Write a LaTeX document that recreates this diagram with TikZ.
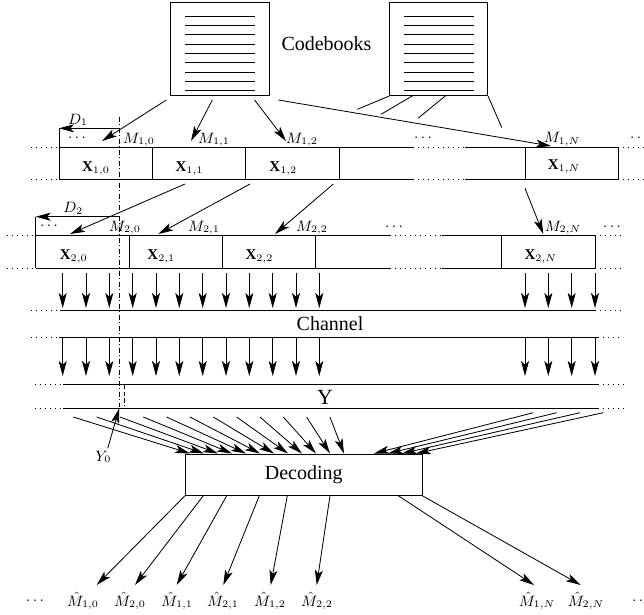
\documentclass[tikz,border=0pt]{standalone}
\usepackage{fontspec}
\setmainfont{Liberation Serif}
\usetikzlibrary{arrows.meta}
\begin{document}
\begin{tikzpicture}[x=0.6pt,y=-0.6pt, line width=0.5pt,
  arr/.style={-{Stealth[length=9pt,width=4.8pt,inset=2.2pt]}},
  dotln/.style={dash pattern=on 0.6pt off 2.4pt},
  dashdot/.style={dash pattern=on 3pt off 1.5pt on 0.6pt off 1.5pt, line width=0.4pt},
  lbl/.style={font=\small, inner sep=0pt},
  txt/.style={font=\fontsize{12}{14}\selectfont, inner sep=0pt},
  book/.style={draw, minimum width=58.9pt, minimum height=55.8pt, inner sep=0pt}]
\useasboundingbox (0,0) rectangle (644,614);

% ---------- codebooks
\node[book] (cb1) at (219.9,49.2) {};
\node[book] (cb2) at (438.6,49.2) {};
\foreach \y in {16.0,25.3,34.7,44.0,53.3,62.7,72.0,81.3,90.7}{
  \draw (185,\y) -- (255,\y);
  \draw (404,\y) -- (474,\y);
}
\node[txt] (cbt) at (326.5,43.3) {Codebooks};

% arrows from codebook 1
\coordinate (s1) at (166.3,100); \coordinate (t1) at (102,141);
\coordinate (s2) at (212.3,100); \coordinate (t2) at (191,141);
\coordinate (s3) at (254.6,100); \coordinate (t3) at (286,141);
\coordinate (s4) at (278.4,100); \coordinate (t4) at (551,146);
\draw[arr] (s1) -- (t1);
\draw[arr] (s2) -- (t2);
\draw[arr] (s3) -- (t3);
\draw[arr] (s4) -- (t4);
% stubs from codebook 2
\coordinate (u1) at (357.3,109.3);
\coordinate (c2a) at (412.7,95.7); \coordinate (u2) at (381,114.3);
\coordinate (c2b) at (445.6,95.7); \coordinate (u3) at (418,118.3);
\coordinate (u4) at (501.8,127.7);
\draw (cb2.south west) -- (u1);
\draw (c2a) -- (u2);
\draw (c2b) -- (u3);
\draw (cb2.south east) -- (u4);

% ---------- row 1
\foreach \y in {147,179}{
  \draw[dotln] (31,\y) -- (59,\y);
  \draw (59,\y) -- (413,\y);
  \draw[dotln] (413,\y) -- (465,\y);
  \draw (465,\y) -- (618.3,\y);
  \draw[dotln] (618.3,\y) -- (644,\y);
}
\draw (59,128.3) -- (59,179);
\foreach \x in {152.3,245.7,339,525,618.3}{ \draw (\x,147) -- (\x,179); }
\coordinate (d1a) at (119.3,128.3); \coordinate (d1b) at (59,128.3);
\draw[arr] (d1a) -- (d1b);
\node[lbl] (D1) at (78,120) {$D_1$};
\node[lbl] (e11) at (77,138) {$\cdots$};
\node[lbl] (e12) at (423,138) {$\cdots$};
\node[lbl] (e13) at (639,138) {$\cdots$};
\node[lbl] (m10) at (139,140) {$M_{1,0}$};
\node[lbl] (m11) at (214,140) {$M_{1,1}$};
\node[lbl] (m12) at (302,140) {$M_{1,2}$};
\node[lbl] (m1N) at (562,139.3) {$M_{1,N}$};
\node[lbl] (x10) at (96,168.3) {$\mathbf{X}_{1,0}$};
\node[lbl] (x11) at (189.5,168.3) {$\mathbf{X}_{1,1}$};
\node[lbl] (x12) at (283.3,168.3) {$\mathbf{X}_{1,2}$};
\node[lbl] (x1N) at (564,166.7) {$\mathbf{X}_{1,N}$};

% row1 -> row2 arrows
\coordinate (p1) at (185,184); \coordinate (q1) at (70,234);
\coordinate (p2) at (250,184); \coordinate (q2) at (158.3,234);
\coordinate (p3) at (333.3,184); \coordinate (q3) at (275,234);
\coordinate (p4) at (525,188.3); \coordinate (q4) at (543.3,234);
\draw[arr] (p1) -- (q1);
\draw[arr] (p2) -- (q2);
\draw[arr] (p3) -- (q3);
\draw[arr] (p4) -- (q4);

% ---------- row 2
\foreach \y in {235,268.3}{
  \draw[dotln] (6.7,\y) -- (35.7,\y);
  \draw (35.7,\y) -- (390,\y);
  \draw[dotln] (390,\y) -- (442,\y);
  \draw (442,\y) -- (595,\y);
  \draw[dotln] (595,\y) -- (622,\y);
}
\draw (35.7,216.7) -- (35.7,268.3);
\foreach \x in {129,222.3,315.7,501.7,595}{ \draw (\x,235) -- (\x,268.3); }
\coordinate (d2a) at (119.3,216.7); \coordinate (d2b) at (35.7,216.7);
\draw[arr] (d2a) -- (d2b);
\node[lbl] (D2) at (73.3,208.3) {$D_2$};
\node[lbl] (e21) at (49,226) {$\cdots$};
\node[lbl] (e22) at (394,226.7) {$\cdots$};
\node[lbl] (e23) at (612,226.7) {$\cdots$};
\node[lbl] (m20) at (125,228) {$M_{2,0}$};
\node[lbl] (m21) at (204,228) {$M_{2,1}$};
\node[lbl] (m22) at (312,228) {$M_{2,2}$};
\node[lbl] (m2N) at (563,228) {$M_{2,N}$};
\node[lbl] (x20) at (73.7,256.7) {$\mathbf{X}_{2,0}$};
\node[lbl] (x21) at (161.3,256.7) {$\mathbf{X}_{2,1}$};
\node[lbl] (x22) at (259.5,256.7) {$\mathbf{X}_{2,2}$};
\node[lbl] (x2N) at (540.8,256.7) {$\mathbf{X}_{2,N}$};

% ---------- vertical arrows
\foreach \x [count=\i] in {62.7,86,109.3,132.7,156,179.3,202.7,226,249.3,272.7,296,319.3,525,548.3,571.7,595}{
  \coordinate (va\i) at (\x,272.7); \coordinate (vb\i) at (\x,308);
  \coordinate (vc\i) at (\x,337.3); \coordinate (vd\i) at (\x,376);
  \draw[arr] (va\i) -- (vb\i);
  \draw[arr] (vc\i) -- (vd\i);
}

% ---------- channel
\draw[dotln] (31,310) -- (60,310);
\draw (60,310) -- (595,310);
\draw[dotln] (595,310) -- (623,310);
\draw[dotln] (31,337.3) -- (59,337.3);
\draw (59,337.3) -- (598,337.3);
\draw[dotln] (598,337.3) -- (623,337.3);
\node[txt] (chan) at (330,323.3) {Channel};

% ---------- Y
\foreach \y in {384.3,408}{
  \draw[dotln] (35,\y) -- (63.3,\y);
  \draw (63.3,\y) -- (598.3,\y);
  \draw[dotln] (598.3,\y) -- (627,\y);
}
\node[txt, font=\fontsize{13}{15}\selectfont] (Y) at (325,397.5) {Y};

% dash-dot time marker
\coordinate (dd1) at (119.3,116.7); \coordinate (dd2) at (119.3,407);
\draw[dashdot] (dd1) -- (dd2);
\coordinate (ds1) at (124,385); \coordinate (ds2) at (124,406);
\draw[dash pattern=on 2.5pt off 1.5pt] (ds1) -- (ds2);

% Y0
\node[lbl] (y0) at (103.3,457) {$Y_0$};
\coordinate (y0s) at (107.7,448.3); \coordinate (y0t) at (119.3,408.3);
\draw[arr] (y0s) -- (y0t);

% ---------- decoding
\node[draw, minimum width=142.4pt, minimum height=24.8pt, inner sep=0pt] (dec) at (303.7,475) {};
\node[txt] (dect) at (303.7,475) {Decoding};

\foreach \i in {0,...,11}{
  \coordinate (ya\i) at (73.3+23.33*\i,417);
  \coordinate (yb\i) at (190+14*\i,453.5);
  \draw[arr] (ya\i) -- (yb\i);
}
\foreach \sx/\tx [count=\i] in {533.3/374,556.7/388,580/402,603.3/416}{
  \coordinate (ra\i) at (\sx,412.7);
  \coordinate (rb\i) at (\tx,453.5);
  \draw[arr] (ra\i) -- (rb\i);
}

% outputs
\foreach \sx/\tx [count=\i] in {185/96.7,203.3/135,226.7/176.7,259.3/223.3,287.3/270.7,330/316.7,398.3/534,422.3/580.7}{
  \coordinate (oa\i) at (\sx,495.7);
  \coordinate (ob\i) at (\tx,585);
  \draw[arr] (oa\i) -- (ob\i);
}
\node[lbl] (h0) at (35,601) {$\cdots$};
\node[lbl] (h10) at (83,601) {$\hat M_{1,0}$};
\node[lbl] (h20) at (130,601) {$\hat M_{2,0}$};
\node[lbl] (h11) at (177,601) {$\hat M_{1,1}$};
\node[lbl] (h21) at (223,601) {$\hat M_{2,1}$};
\node[lbl] (h12) at (270,601) {$\hat M_{1,2}$};
\node[lbl] (h22) at (317,601) {$\hat M_{2,2}$};
\node[lbl] (h1N) at (537,601) {$\hat M_{1,N}$};
\node[lbl] (h2N) at (586,601) {$\hat M_{2,N}$};
\node[lbl] (h9) at (641,601) {$\cdots$};
\end{tikzpicture}
\end{document}
